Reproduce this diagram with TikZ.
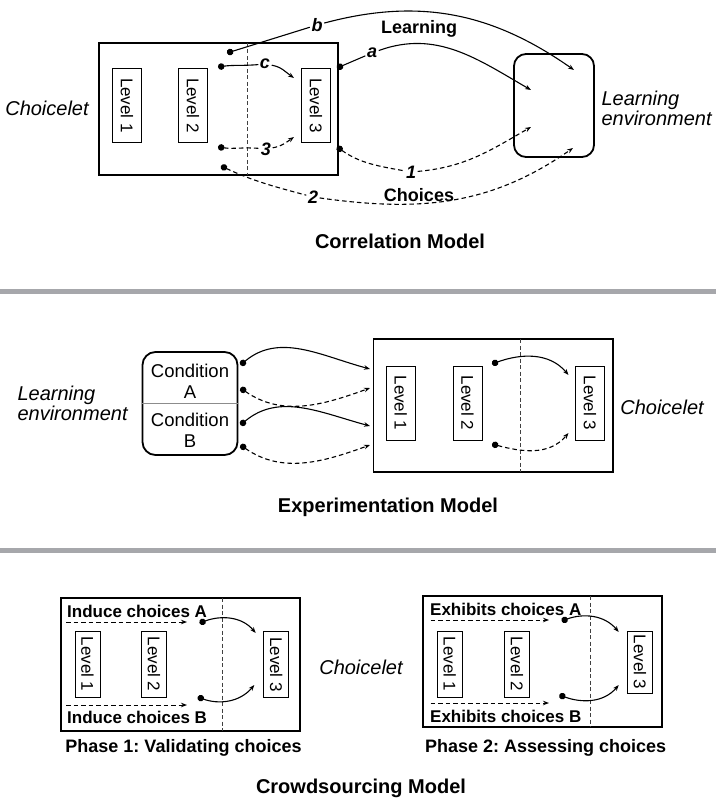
\documentclass[tikz,border=0pt]{standalone}
\usepackage{fontspec}
\setmainfont{Liberation Sans}
\frenchspacing
\usepackage{tikz}
\usetikzlibrary{arrows.meta,positioning,calc}
\definecolor{sepGray}{HTML}{A6A7AB}
\definecolor{midGray}{HTML}{8C8C8C}

\begin{document}
\begin{tikzpicture}[x=1pt,y=1pt,
  frame/.style={draw, line width=1.8pt, inner sep=0},
  envbox/.style={frame, rounded corners=12pt},
  level/.style={
    draw, line width=0.9pt, rotate=-90, inner sep=0,
    minimum width=74pt, minimum height=29pt,
    font=\fontsize{17}{19}\selectfont
  },
  smalllevel/.style={level, minimum width=66pt, minimum height=25pt},
  split/.style={draw=black!75, line width=0.7pt, dash pattern=on 4pt off 2.5pt},
  from/.style={line width=1.1pt, {Circle[length=6.5pt]}-},
  to/.style={line width=1.1pt, -{Stealth[length=6pt,width=4.5pt]}},
  link/.style={line width=1.1pt, {Circle[length=6.5pt]}-{Stealth[length=6pt,width=4.5pt]}},
  dsh/.style={dash pattern=on 4.5pt off 3pt},
  tag/.style={font=\fontsize{18}{20}\selectfont\bfseries\itshape, inner sep=1.5pt},
  bold/.style={font=\fontsize{18}{20}\selectfont\bfseries},
  note/.style={font=\fontsize{17}{19}\selectfont\bfseries, anchor=west, inner sep=0},
  title/.style={font=\fontsize{20}{22}\selectfont\bfseries},
  side/.style={font=\fontsize{20}{20}\selectfont\itshape, align=left},
  sep/.style={sepGray, line width=5pt},
]
\useasboundingbox (0,0) rectangle (716,-799);

% ---------- Correlation ----------
\node[frame, minimum width=239pt, minimum height=132pt] (ch) at (218.5,-109) {};
\draw[split] (247,-43) -- (247,-175);
\node[level] (l1) at (127,-105.5) {Level 1};
\node[level] (l2) at (193,-105.5) {Level 2};
\node[level] (l3) at (316,-105.5) {Level 3};
\node[side] (chname) at (47,-108) {Choicelet};

\node[envbox, minimum width=80pt, minimum height=103pt] (env) at (554,-105.5) {};
\node[side, anchor=west] (envname) at (598,-108.5) {Learning\\environment};

% end points
\coordinate (bdot) at (227,-53);
\coordinate (cdot) at (218,-67);
\coordinate (adot) at (337,-68);
\coordinate (dot3) at (218,-147);
\coordinate (dot1) at (337,-147);
\coordinate (dot2) at (221,-166);
\coordinate (cend) at (294,-78);
\coordinate (end3) at (294,-137);
\coordinate (bend) at (574,-70);
\coordinate (aend) at (531,-90);
\coordinate (end1) at (531,-127);
\coordinate (end2) at (573,-148);

% tags
\node[tag] (tb) at (317,-25) {b};
\node[tag] (ta) at (372,-53) {a};
\node[tag] (tc) at (265,-64) {c};
\node[tag] (t3) at (266,-149) {3};
\node[tag] (t1) at (411,-172) {1};
\node[tag] (t2) at (313,-197) {2};

% learning arrows
\draw[from] (bdot) -- (tb);
\draw[to] (tb) to[out=15,in=145] (bend);
\draw[from] (adot) -- (ta);
\draw[to] (ta) to[out=20,in=150] (aend);
\draw[from] (cdot) to[out=8,in=185] (tc);
\draw[to] (tc) to[out=-10,in=145] (cend);
% choice arrows
\draw[from,dsh] (dot3) to[out=-8,in=175] (t3);
\draw[to,dsh] (t3) to[out=10,in=-145] (end3);
\draw[from,dsh] (dot1) to[out=-35,in=170] (t1);
\draw[to,dsh] (t1) to[out=5,in=-150] (end1);
\draw[from,dsh] (dot2) to[out=-25,in=165] (t2);
\draw[to,dsh] (t2) to[out=-8,in=-145] (end2);

\node[bold] (learn) at (419,-29) {Learning};
\node[bold] (choices) at (419,-195) {Choices};
\node[title] (corr) at (400,-241) {Correlation Model};

\draw[sep] (0,-291.5) -- (716,-291.5);

% ---------- Experimentation ----------
\node[envbox, rounded corners=13pt, minimum width=95pt, minimum height=103pt] (cond) at (190,-403.5) {};
\draw[midGray, line width=0.8pt] (cond.west) -- (cond.east);
\node[font=\fontsize{18.5}{21}\selectfont, align=center] (condA) at (190,-381.5) {Condition\\A};
\node[font=\fontsize{18.5}{21}\selectfont, align=center] (condB) at (190,-430) {Condition\\B};
\node[side, anchor=west] (envname2) at (14,-403) {Learning\\environment};

\node[frame, minimum width=239.5pt, minimum height=133pt] (ch2) at (493.25,-405.5) {};
\draw[split] (520.5,-339) -- (520.5,-472);
\node[level] (m1) at (400.75,-403) {Level 1};
\node[level] (m2) at (467.5,-403) {Level 2};
\node[level] (m3) at (590,-403) {Level 3};
\node[side] (chname2) at (662,-407) {Choicelet};

\coordinate (sA) at (240.5,-365);
\coordinate (dA) at (240.5,-388);
\coordinate (sB) at (240.5,-425);
\coordinate (dB) at (240.5,-445);
\coordinate (sAe) at (370,-369);
\coordinate (dAe) at (370,-388);
\coordinate (sBe) at (370,-426);
\coordinate (dBe) at (370,-445);
\draw[link] (sA) to[out=40,in=165] (sAe);
\draw[link,dsh] (dA) to[out=-35,in=-160] (dAe);
\draw[link] (sB) to[out=40,in=165] (sBe);
\draw[link,dsh] (dB) to[out=-35,in=-160] (dBe);

\coordinate (m2s) at (492,-364);
\coordinate (m2d) at (492,-444);
\draw[link] (m2s) to[out=20,in=130] (568.5,-375);
\draw[link,dsh] (m2d) to[out=-15,in=-130] (568.5,-433);

\node[title] (expm) at (388,-507) {Experimentation Model};

\draw[sep] (0,-550.5) -- (716,-550.5);

% ---------- Crowdsourcing ----------
% phase 1
\node[frame, minimum width=239pt, minimum height=133pt] (p1) at (180.5,-664.5) {};
\draw[split] (222.4,-598) -- (222.4,-731);
\node[smalllevel] (p1l1) at (87.5,-664) {Level 1};
\node[smalllevel] (p1l2) at (154,-664) {Level 2};
\node[smalllevel] (p1l3) at (276.3,-664.5) {Level 3};
\node[note] (indA) at (67,-611) {Induce choices A};
\node[note] (indB) at (67,-717) {Induce choices B};
\coordinate (iA) at (66,-622);
\coordinate (iAe) at (187,-622);
\coordinate (iB) at (66,-705);
\coordinate (iBe) at (187,-705);
\draw[to,dsh,line width=1pt] (iA) -- (iAe);
\draw[to,dsh,line width=1pt] (iB) -- (iBe);
\coordinate (p1s) at (199.5,-623);
\coordinate (p1d) at (197.7,-697);
\draw[link] (p1s) to[out=20,in=130] (255.7,-633);
\draw[link] (p1d) to[out=-20,in=-130] (254.3,-685);
\node[bold] (ph1) at (183.5,-748) {Phase 1: Validating choices};

\node[side] (chname3) at (361,-667) {Choicelet};

% phase 2
\node[frame, minimum width=239pt, minimum height=131pt] (p2) at (542.5,-661.5) {};
\draw[split] (590,-596) -- (590,-727);
\node[smalllevel] (p2l1) at (449.7,-664) {Level 1};
\node[smalllevel] (p2l2) at (517,-664) {Level 2};
\node[smalllevel, minimum width=62pt] (p2l3) at (640,-662) {Level 3};
\node[note] (exA) at (430,-609) {Exhibits choices A};
\node[note] (exB) at (430,-716) {Exhibits choices B};
\coordinate (eA) at (430.6,-620);
\coordinate (eAe) at (549,-620);
\coordinate (eB) at (430.6,-703);
\coordinate (eBe) at (549,-703);
\draw[to,dsh,line width=1pt] (eA) -- (eAe);
\draw[to,dsh,line width=1pt] (eB) -- (eBe);
\coordinate (p2s) at (561.6,-621);
\coordinate (p2d) at (559.3,-695);
\draw[link] (p2s) to[out=20,in=130] (618.7,-632);
\draw[link] (p2d) to[out=-20,in=-130] (618.7,-685);
\node[bold] (ph2) at (545.6,-748) {Phase 2: Assessing choices};

\node[title] (crowd) at (361,-788) {Crowdsourcing Model};
\end{tikzpicture}
\end{document}
